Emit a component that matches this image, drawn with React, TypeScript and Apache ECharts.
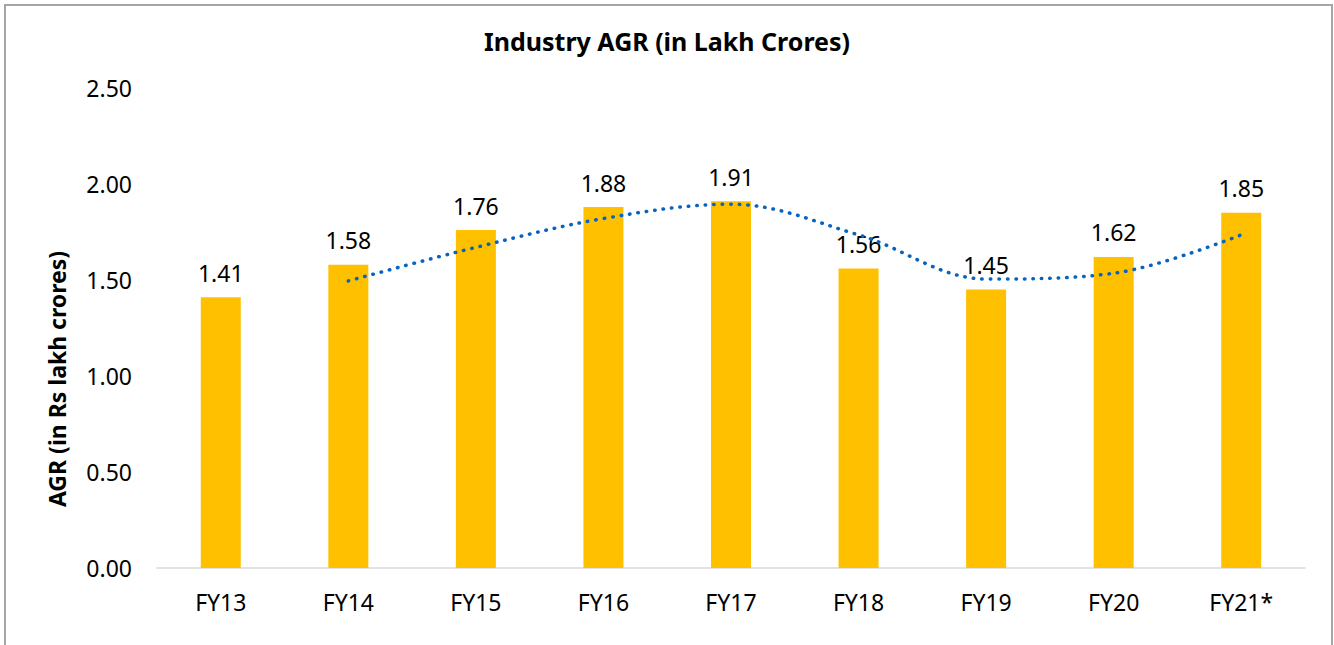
import React, { useEffect, useRef } from "react";
import * as echarts from "echarts";

const categories = ["FY13", "FY14", "FY15", "FY16", "FY17", "FY18", "FY19", "FY20", "FY21*"];
const agrValues = [1.41, 1.58, 1.76, 1.88, 1.91, 1.56, 1.45, 1.62, 1.85];
const trendValues: (number | null)[] = [null, 1.495, 1.67, 1.82, 1.895, 1.735, 1.505, 1.535, 1.735];
const yTicks = { min: 0, max: 2.5, interval: 0.5 };
const yAxisTitle = "AGR (in Rs lakh crores)";

const FONT = "'Noto Sans', sans-serif";

export default function App() {
  const ref = useRef<HTMLDivElement>(null);
  useEffect(() => {
    if (!ref.current) return;
    const chart = echarts.init(ref.current, null, { renderer: "svg" });
    chart.setOption({
      animation: false,
      backgroundColor: "transparent",
      title: {
        text: "Industry AGR (in Lakh Crores)",
        left: "center",
        top: 23,
        textStyle: { fontFamily: FONT, fontSize: 25, fontWeight: "bold", color: "#000" },
      },
      graphic: [
        {
          type: "text",
          x: 57,
          y: 379,
          rotation: Math.PI / 2,
          style: {
            text: yAxisTitle,
            fontFamily: FONT,
            fontSize: 23,
            fontWeight: "bold",
            fill: "#000",
            align: "center",
            verticalAlign: "middle",
          },
        },
      ],
      grid: { left: 157, right: 1334 - 1305, top: 88, bottom: 645 - 568 },
      xAxis: {
        type: "category",
        data: categories,
        axisLine: { show: true, lineStyle: { color: "#d9d9d9", width: 1.5 } },
        axisTick: { show: false },
        axisLabel: { fontFamily: FONT, fontSize: 23, color: "#000", margin: 22 },
      },
      yAxis: {
        type: "value",
        min: yTicks.min,
        max: yTicks.max,
        interval: yTicks.interval,
        splitLine: { show: false },
        axisLine: { show: false },
        axisTick: { show: false },
        axisLabel: {
          fontFamily: FONT,
          fontSize: 23,
          color: "#000",
          margin: 25,
          formatter: (v: number) => v.toFixed(2),
        },
      },
      series: [
        {
          type: "bar",
          data: agrValues,
          barWidth: 40,
          itemStyle: { color: "#FFC000" },
          label: {
            show: true,
            position: "top",
            distance: 13,
            fontFamily: FONT,
            fontSize: 23,
            color: "#000",
            formatter: (p: any) => p.value.toFixed(2),
          },
        },
        {
          type: "line",
          data: trendValues,
          smooth: 0.35,
          symbol: "none",
          connectNulls: false,
          lineStyle: { color: "#0563C1", width: 3.5, type: [0.5, 8], cap: "round" },
          z: 5,
        },
      ],
    });
    return () => chart.dispose();
  }, []);
  return (
    <div style={{ position: "absolute", left: 0, top: 0, width: 1334, height: 645, overflow: "hidden", background: "#fff" }}>
      <div
        style={{
          position: "absolute",
          left: 4,
          top: 4,
          width: 1329,
          height: 700,
          border: "2px solid #a6a6a6",
          boxSizing: "border-box",
        }}
      />
      <div ref={ref} style={{ position: "absolute", left: 0, top: 0, width: 1334, height: 645 }} />
    </div>
  );
}
